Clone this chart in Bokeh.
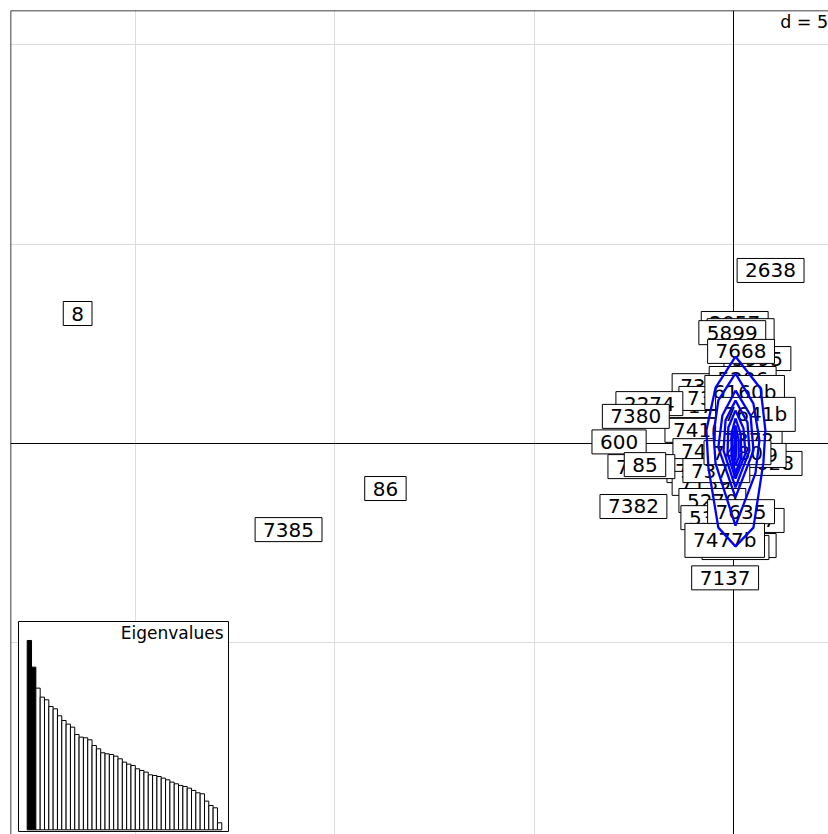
from bokeh.plotting import figure
from bokeh.models import Range1d, Span, Label, ColumnDataSource, FixedTicker, Grid
from bokeh.embed import file_html
from bokeh.resources import INLINE
from bokeh.core.properties import value

# ---- data ----
labels = ["7398", "7171", "7376", "7410", "7403", "7412", "7139", "5270", "5310",
          "7447", "7160", "7164", "2057", "7025", "5899", "5995", "7668", "5206",
          "7372", "7628", "5089", "7377", "7480", "6160b", "7641b",
          "2274", "7380", "600", "7381", "85", "7382", "7635", "7477b", "7137",
          "2638", "86", "7385", "8"]
label_x = [-0.70, -0.83, -0.53, -0.88, -0.68, -0.83, -0.70, -0.53, -0.48,
           0.43, 0.23, 0.05, 0.03, 0.18, -0.03, 0.60, 0.19, 0.23,
           0.38, 0.88, 0.48, -0.43, 0.10, 0.28, 0.55,
           -2.11, -2.45, -2.87, -2.31, -2.22, -2.51, 0.19, -0.22, -0.21,
           0.93, -8.73, -11.16, -16.45]
label_y = [1.45, 0.95, 1.13, 0.33, -0.18, -0.68, -1.00, -1.43, -1.86,
           -1.93, -2.56, -2.61, 3.01, 2.83, 2.78, 2.13, 2.31, 1.63,
           0.08, -0.50, -0.30, -0.68, -0.23, 1.28, 0.73,
           1.00, 0.68, 0.04, -0.58, -0.53, -1.58, -1.71, -2.43, -3.37,
           4.34, -1.13, -2.16, 3.26]

eigenvalues = [5.68, 4.88, 4.25, 3.98, 3.90, 3.70, 3.63, 3.42, 3.28, 3.17,
               3.08, 2.86, 2.78, 2.76, 2.70, 2.53, 2.43, 2.31, 2.28, 2.26,
               2.21, 2.13, 2.03, 1.97, 1.93, 1.83, 1.78, 1.73, 1.65, 1.63,
               1.60, 1.55, 1.50, 1.43, 1.38, 1.33, 1.30, 1.25, 1.18, 1.11,
               1.08, 0.86, 0.73, 0.66, 0.21]
n_axes_kept = 2

contour_xs = [
    [0.05, 0.68, 0.80, 0.75, 0.50, 0.05, -0.38, -0.63, -0.68, -0.45, 0.05],
    [0.05, 0.50, 0.65, 0.55, 0.05, -0.45, -0.50, -0.38, 0.05],
    [0.05, 0.43, 0.50, 0.05, -0.38, -0.28, 0.05],
    [0.05, 0.35, 0.40, 0.05, -0.25, -0.20, 0.05],
    [0.05, 0.25, 0.30, 0.05, -0.15, -0.13, 0.05],
    [0.05, 0.18, 0.20, 0.05, -0.05, -0.05, 0.05],
    [0.05, 0.13, 0.13, 0.05, 0.00, -0.03, 0.05],
    [0.05, 0.07, 0.05, 0.03, 0.05],
]
contour_ys = [
    [2.18, 1.38, 0.33, -0.48, -2.11, -2.58, -2.11, -0.60, 0.33, 1.40, 2.18],
    [1.76, 1.00, 0.08, -0.75, -2.06, -0.50, 0.25, 1.08, 1.76],
    [1.33, 0.70, -0.18, -1.35, -0.10, 0.70, 1.33],
    [1.08, 0.53, -0.18, -1.10, -0.18, 0.58, 1.08],
    [0.83, 0.38, -0.25, -0.88, -0.25, 0.40, 0.83],
    [0.63, 0.25, -0.35, -0.73, -0.35, 0.25, 0.63],
    [0.45, 0.08, -0.35, -0.55, -0.35, 0.08, 0.45],
    [0.33, -0.05, -0.43, -0.05, 0.33],
]

grid_x = [-15, -10, -5, 0]
grid_y = [-5, 0, 5, 10]
d_text = "d = 5"

# ---- figure ----
x_start, x_end = -18.134, 2.383
y_start, y_end = -9.807, 10.860

p = figure(width=828, height=834, output_backend="svg", toolbar_location=None,
           x_range=Range1d(x_start, x_end), y_range=Range1d(y_start, y_end),
           x_axis_location=None, y_axis_location=None,
           min_border_left=10, min_border_top=10, min_border_right=0, min_border_bottom=0,
           outline_line_color=None, background_fill_color="white",
           border_fill_color="white")

p.add_layout(Grid(dimension=0, ticker=FixedTicker(ticks=grid_x),
                  grid_line_color="#dcdcdc", grid_line_width=1))
p.add_layout(Grid(dimension=1, ticker=FixedTicker(ticks=grid_y),
                  grid_line_color="#dcdcdc", grid_line_width=1))

p.add_layout(Span(location=0, dimension="height", line_color="black",
                  line_width=1, level="underlay"))
p.add_layout(Span(location=0, dimension="width", line_color="black",
                  line_width=1, level="underlay"))

src = ColumnDataSource(dict(x=label_x, y=label_y, label=labels))
p.text(x="x", y="y", text="label", source=src,
       text_font=value("DejaVu Sans"), text_font_size="20px",
       text_align="center", text_baseline="middle", text_color="black",
       background_fill_color="white", border_line_color="black",
       border_line_width=1, padding=dict(left=8, right=8, top=5, bottom=5))

p.multi_line(xs=contour_xs, ys=contour_ys, line_color="#0000ff", line_width=2.3)

# ---- eigenvalue inset ----
p.extra_x_ranges = {"eig_x": Range1d(-3.362, 185.81)}
p.extra_y_ranges = {"eig_y": Range1d(-0.141, 24.58)}
p.quad(left=[-1.51], right=[47.05], bottom=[-0.05], top=[6.249],
       fill_color="white", line_color="black", line_width=1,
       x_range_name="eig_x", y_range_name="eig_y")
idx = list(range(1, len(eigenvalues) + 1))
colors = ["black" if i <= n_axes_kept else "white" for i in idx]
p.vbar(x=idx, top=eigenvalues, bottom=0, width=1, fill_color=colors,
       line_color="black", line_width=1,
       x_range_name="eig_x", y_range_name="eig_y")
p.text(x=[45.9], y=[6.2], text=["Eigenvalues"], text_align="right",
       text_baseline="top", text_font=value("DejaVu Sans"),
       text_font_size="17px", text_color="black",
       x_range_name="eig_x", y_range_name="eig_y")

p.add_layout(Label(x=1.17, y=10.56, text=d_text, text_font="DejaVu Sans",
                   text_font_size="17.5px", text_baseline="alphabetic",
                   text_color="black"))

# frame border (left and top)
p.add_layout(Span(location=x_start, dimension="height", line_color="black", line_width=1.5))
p.add_layout(Span(location=y_end, dimension="width", line_color="black", line_width=1.5))

open("out.html", "w").write(file_html(p, INLINE))
